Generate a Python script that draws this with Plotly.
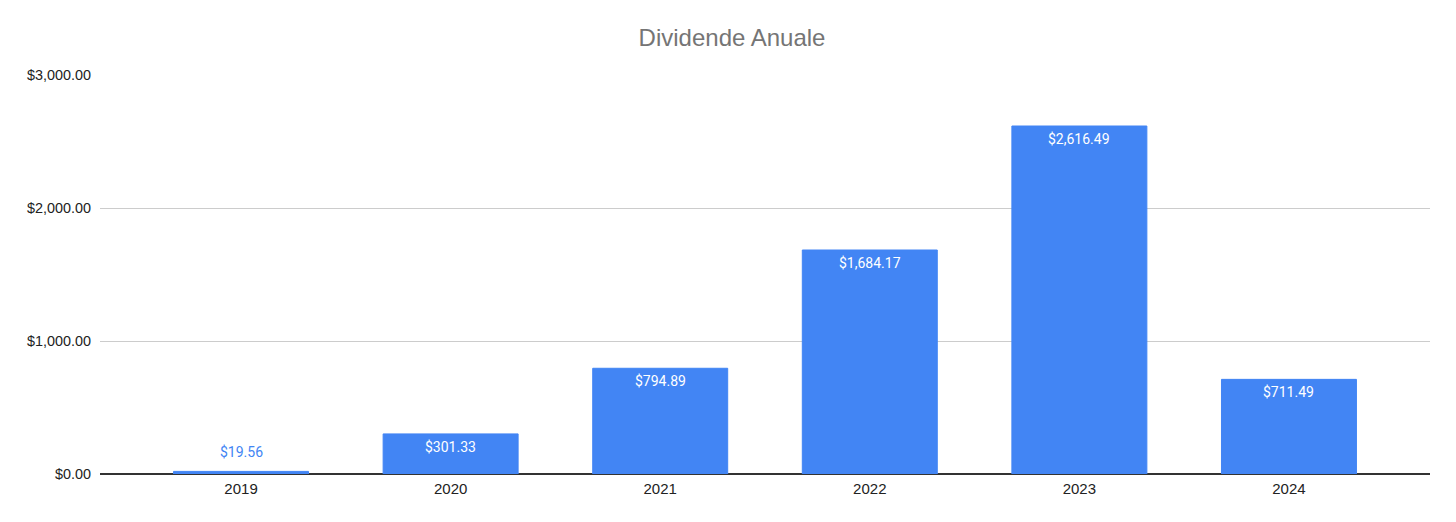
import plotly.graph_objects as go

# data
years = ['2019', '2020', '2021', '2022', '2023', '2024']
dividends = [19.56, 301.33, 794.89, 1684.17, 2616.49, 711.49]
y_ticks = [0, 1000, 2000, 3000]

bar_color = '#4285f4'

# page body has an 8px margin, so the figure is a bit smaller than the window
W, H = 1448, 514

fig = go.Figure()
fig.add_trace(go.Bar(x=years, y=dividends, marker_color=bar_color,
                     marker_line=dict(color=bar_color, width=1), hoverinfo='x+y'))

# value labels: inside the bar top, or above it when the bar is too short
annos = []
for i, v in enumerate(dividends):
    small = v < 150
    annos.append(dict(x=i, y=v, xref='x', yref='y', text=f"${v:,.2f}", showarrow=False,
                      yanchor='middle', yshift=19 if small else -13,
                      font=dict(family='Roboto', size=14, color=bar_color if small else 'white')))

fig.update_layout(
    title=dict(text='Dividende Anuale', x=0.5, xanchor='center', y=1 - 30 / H, yanchor='middle',
               font=dict(family='Liberation Sans, Arial', size=24, color='#757575')),
    annotations=annos,
    width=W, height=H,
    margin=dict(l=92, r=26, t=67, b=48),
    plot_bgcolor='white', paper_bgcolor='white',
    bargap=0.356, showlegend=False,
    font=dict(family='Liberation Sans, Arial', size=14, color='#222222'),
)
fig.update_xaxes(type='category', range=[-0.673, 5.673], showgrid=False, showline=False, ticks='',
                 automargin=False, ticklabelstandoff=4, tickfont=dict(size=15, color='#222222'))
fig.update_yaxes(range=[0, 3000], tickvals=y_ticks, tickformat='$,.2f', automargin=False,
                 gridcolor='#cccccc', gridwidth=1, zeroline=True, zerolinecolor='#333333',
                 zerolinewidth=1.5, showline=False, ticks='', ticklabelstandoff=8,
                 tickfont=dict(size=14.4, color='#222222'))

fig.write_html("out.html")
